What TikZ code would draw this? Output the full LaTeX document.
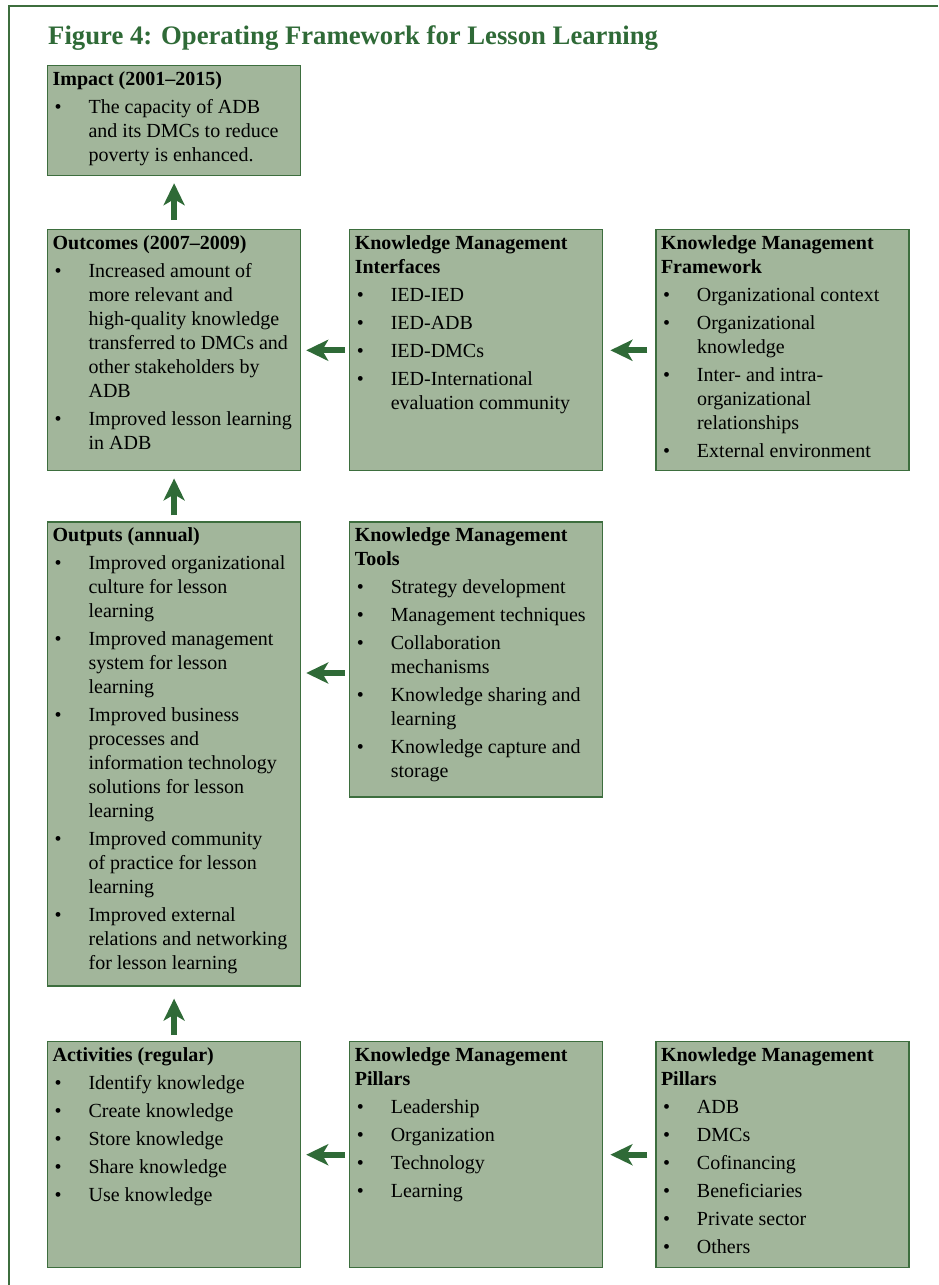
\documentclass[tikz,border=0pt]{standalone}
\usepackage{fontspec}
\setmainfont{Liberation Serif}
\usetikzlibrary{arrows.meta,positioning}
\definecolor{fwgreen}{HTML}{2F6A37}
\definecolor{fwedge}{HTML}{3D6E3E}
\definecolor{fwsage}{HTML}{A2B69B}
\newcommand{\itm}[1]{\par\hangindent=36pt\hangafter=1\noindent\makebox[36pt][l]{\hspace{2pt}\textbullet}#1}
\newcommand{\panel}[3]{\parbox[t][#1][t]{243pt}{\fontsize{20}{24}\selectfont\rightskip=0pt plus 1fil\parskip=4pt\strut\textbf{#2}#3}}

\begin{document}
\begin{tikzpicture}[
  x=1pt,y=-1pt,
  panel/.style={draw=fwedge,line width=1.2pt,fill=fwsage,inner xsep=5pt,inner ysep=3pt,anchor=north west},
  arrow/.style={-{Stealth[length=22pt,width=21pt,inset=6pt]},line width=6pt,draw=fwgreen}
]
\useasboundingbox (0,0) rectangle (938,1285);
\draw[fwedge,line width=2pt] (938,6) -- (9,6) -- (9,1285);
\node[anchor=base west,inner sep=0pt,text=fwgreen,font=\fontsize{26.7}{30}\selectfont\bfseries] (title) at (48,44) {Figure 4: Operating Framework for Lesson Learning};
% left column
\node[panel] (impact) at (47,65) {\panel{104pt}{Impact (2001–2015)}{%
  \itm{The capacity of ADB\\and its DMCs to reduce\\poverty is enhanced.}}};
\node[panel,below=53pt of impact] (outcomes) {\panel{235pt}{Outcomes (2007–2009)}{%
  \itm{Increased amount of\\more relevant and\\high-quality knowledge\\transferred to DMCs and\\other stakeholders by\\ADB}
  \itm{Improved lesson learning\\in ADB}}};
\node[panel,right=48pt of outcomes] (interfaces) {\panel{235pt}{Knowledge Management\\Interfaces}{%
  \itm{IED-IED}
  \itm{IED-ADB}
  \itm{IED-DMCs}
  \itm{IED-International\\evaluation community}}};
\node[panel,right=52pt of interfaces] (framework) {\panel{235pt}{Knowledge Management\\Framework}{%
  \itm{Organizational context}
  \itm{Organizational\\knowledge}
  \itm{Inter- and intra-\\organizational\\relationships}
  \itm{External environment}}};
\node[panel,below=50pt of outcomes] (outputs) {\panel{458pt}{Outputs (annual)}{%
  \itm{Improved organizational\\culture for lesson\\learning}
  \itm{Improved management\\system for lesson\\learning}
  \itm{Improved business\\processes and\\information technology\\solutions for lesson\\learning}
  \itm{Improved community\\of practice for lesson\\learning}
  \itm{Improved external\\relations and networking\\for lesson learning}}};
\node[panel,right=48pt of outputs.north east,anchor=north west] (tools) {\panel{269pt}{Knowledge Management\\Tools}{%
  \itm{Strategy development}
  \itm{Management techniques}
  \itm{Collaboration\\mechanisms}
  \itm{Knowledge sharing and\\learning}
  \itm{Knowledge capture and\\storage}}};
\node[panel,below=54.5pt of outputs] (activities) {\panel{220pt}{Activities (regular)}{%
  \itm{Identify knowledge}
  \itm{Create knowledge}
  \itm{Store knowledge}
  \itm{Share knowledge}
  \itm{Use knowledge}}};
\node[panel,right=48pt of activities] (pillars) {\panel{220pt}{Knowledge Management\\Pillars}{%
  \itm{Leadership}
  \itm{Organization}
  \itm{Technology}
  \itm{Learning}}};
\node[panel,right=52pt of pillars] (players) {\panel{220pt}{Knowledge Management\\Pillars}{%
  \itm{ADB}
  \itm{DMCs}
  \itm{Cofinancing}
  \itm{Beneficiaries}
  \itm{Private sector}
  \itm{Others}}};
% arrows
\draw[arrow,shorten <=9pt,shorten >=7pt] (outcomes.north) -- (impact.south);
\draw[arrow,shorten <=4pt,shorten >=5pt] (interfaces.west) -- (outcomes.east);
\draw[arrow,shorten <=8pt,shorten >=7pt] (framework.west) -- (interfaces.east);
\draw[arrow,shorten <=6pt,shorten >=7pt] (outputs.north) -- (outcomes.south);
\draw[arrow,shorten <=4pt,shorten >=5pt] ([yshift=-13.5pt]tools.west) -- ([yshift=-13.5pt]tools.west -| outputs.east);
\draw[arrow,shorten <=6pt,shorten >=12pt] (activities.north) -- (outputs.south);
\draw[arrow,shorten <=4pt,shorten >=5pt] (pillars.west) -- (activities.east);
\draw[arrow,shorten <=8pt,shorten >=7pt] (players.west) -- (pillars.east);
\end{tikzpicture}
\end{document}
